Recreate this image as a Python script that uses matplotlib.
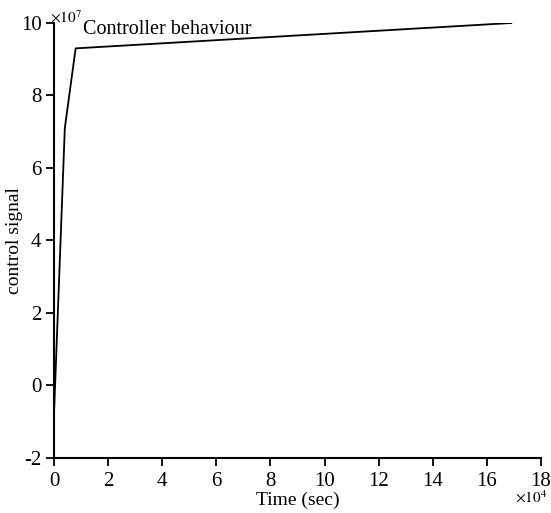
import matplotlib
matplotlib.use("Agg")
import matplotlib.pyplot as plt
from matplotlib.ticker import FuncFormatter, MultipleLocator

plt.rcParams['font.family'] = ['Liberation Serif', 'DejaVu Serif']
plt.rcParams['mathtext.fontset'] = 'stix'

# data (time in sec, control signal)
time_s = [0, 0.4e4, 0.8e4, 16.9e4]
control = [-0.8e7, 7.1e7, 9.3e7, 10e7]

x_scale = 1e4
y_scale = 1e7

W, H = 551, 513
fig = plt.figure(figsize=(W / 100, H / 100), dpi=100)
ax = fig.add_axes([54 / W, 1 - 457.7 / H, (541 - 54) / W, (457.7 - 23) / H])

ax.plot(time_s, control, color='black', linewidth=1.3)

ax.set_xlim(0, 18e4)
ax.set_ylim(-2e7, 10e7)
ax.xaxis.set_major_locator(MultipleLocator(2e4))
ax.yaxis.set_major_locator(MultipleLocator(2e7))
ax.xaxis.set_major_formatter(FuncFormatter(lambda v, p: f"{v / x_scale:g}"))
ax.yaxis.set_major_formatter(FuncFormatter(lambda v, p: f"{v / y_scale:g}".replace('\u2212', '-')))

for s in ['top', 'right']:
    ax.spines[s].set_visible(False)
for s in ['left', 'bottom']:
    ax.spines[s].set_linewidth(1.5)
ax.tick_params(direction='out', length=6, width=1.3, labelsize=15, pad=3)
ax.tick_params(axis='x', pad=4)

ax.set_xlabel('Time (sec)', fontsize=14, labelpad=1)
ax.set_ylabel('control signal', fontsize=14)
ax.yaxis.set_label_coords(-0.064, 0.5)

def px(x, y):
    return x / W, 1 - y / H

fig.text(*px(50, 23), r'$\times10^{7}$', fontsize=11, ha='left', va='baseline')
fig.text(*px(83, 34), 'Controller behaviour', fontsize=14.5, ha='left', va='baseline')
fig.text(*px(547, 503), r'$\times10^{4}$', fontsize=11, ha='right', va='baseline')

fig.savefig('out.png', dpi=100)
